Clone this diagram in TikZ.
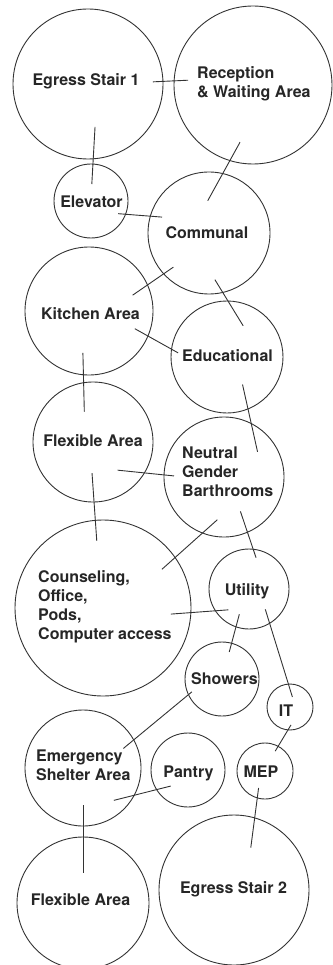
\documentclass[tikz,border=0pt]{standalone}
\usepackage{fontspec}
\setmainfont{TeX Gyre Heros}
\usepackage{tikz}
\definecolor{inkgray}{HTML}{333333}

\begin{document}
\begin{tikzpicture}[x=1pt,y=-1pt,
  room/.style={circle,draw=inkgray,line width=0.9pt,inner sep=0pt,outer sep=0pt,minimum size=#1},
  lbl/.style={font=\fontsize{16}{19}\selectfont\bfseries,text=black!85,inner sep=0pt},
  link/.style={draw=inkgray,line width=0.9pt}]
  \useasboundingbox (0,0) rectangle (332,965);

  \node[room=150pt] (es1) at (88,84) {};
  \node[room=158pt] (rec) at (253,85) {};
  \node[room=74pt] (elev) at (91,201) {};
  \node[room=122pt] (comm) at (209,233) {};
  \node[room=128pt] (kit) at (89,311) {};
  \node[room=112pt] (edu) at (227,357) {};
  \node[room=120pt] (flex) at (93,442) {};
  \node[room=120pt] (neu) at (224,477) {};
  \node[room=176pt] (couns) at (103,608) {};
  \node[room=80pt] (util) at (249,589) {};
  \node[room=74pt] (show) at (222,679) {};
  \node[room=46pt] (it) at (290,707) {};
  \node[room=116pt] (emer) at (83,768) {};
  \node[room=74pt] (pan) at (188,770) {};
  \node[room=56pt] (mep) at (265,771) {};
  \node[room=150pt] (es2) at (234,890) {};
  \node[room=132pt] (flex2) at (83,903) {};

  \node[lbl,anchor=base] (es1-t) at (86,86) {Egress Stair 1};
  \node[lbl,anchor=west,align=left] (rec-t) at (197,84) {Reception\\\& Waiting Area};
  \node[lbl,anchor=base] (elev-t) at (91.5,208) {Elevator};
  \node[lbl,anchor=base] (comm-t) at (207,239) {Communal};
  \node[lbl,anchor=base] (kit-t) at (90.5,319) {Kitchen Area};
  \node[lbl,anchor=base] (edu-t) at (227.5,361) {Educational};
  \node[lbl,anchor=base] (flex-t) at (93,446) {Flexible Area};
  \node[lbl,anchor=west,align=left] (neu-t) at (182,472) {Neutral\\Gender\\Barthrooms};
  \node[lbl,anchor=west,align=left] (couns-t) at (38,607) {Counseling,\\Office,\\Pods,\\Computer access};
  \node[lbl,anchor=base] (util-t) at (247,595) {Utility};
  \node[lbl,anchor=base] (show-t) at (224.5,684) {Showers};
  \node[lbl,anchor=base] (it-t) at (286,716) {IT};
  \node[lbl,anchor=west,align=left] (emer-t) at (36,765.5) {Emergency\\Shelter Area};
  \node[lbl,anchor=base] (pan-t) at (188.5,777) {Pantry};
  \node[lbl,anchor=base] (mep-t) at (261,777) {MEP};
  \node[lbl,anchor=base] (es2-t) at (233.5,893) {Egress Stair 2};
  \node[lbl,anchor=base] (flex2-t) at (80.5,905) {Flexible Area};

  \draw[link,shorten <=-10pt,shorten >=-14pt] (es1.2) -- (rec.177);
  \draw[link,shorten <=-32pt,shorten >=-20pt] (es1.274) -- (elev.87);
  \draw[link,shorten <=-21pt,shorten >=-31pt] (rec.253) -- (comm.77);
  \draw[link,shorten <=-7.5pt,shorten >=-11.7pt] (elev.339) -- (comm.164);
  \draw[link,shorten <=-11.8pt,shorten >=-18pt] (comm.222.5) -- (kit.24.4);
  \draw[link,shorten <=-15pt,shorten >=-29pt] (comm.283.3) -- (edu.89.5);
  \draw[link,shorten <=-15pt,shorten >=-7.5pt] (kit.337.4) -- (edu.172);
  \draw[link,shorten <=-22pt,shorten >=-29pt] (kit.265) -- (flex.99);
  \draw[link,shorten <=-25pt,shorten >=-29pt] (edu.292.7) -- (neu.63.5);
  \draw[link,shorten <=-27pt,shorten >=-10pt] (flex.329.7) -- (neu.178.5);
  \draw[link,shorten <=-29pt,shorten >=-20.6pt] (flex.271.3) -- (couns.95.4);
  \draw[link,shorten <=-20pt,shorten >=-17.6pt] (neu.249) -- (couns.35.7);
  \draw[link,shorten <=-22pt,shorten >=-9pt] (neu.293.4) -- (util.84.8);
  \draw[link,shorten <=-20pt,shorten >=-13pt] (couns.357.6) -- (util.213.7);
  \draw[link,shorten <=-13pt,shorten >=-9pt] (util.251.5) -- (show.75.1);
  \draw[link,shorten <=-14.6pt,shorten >=-13.5pt] (util.301.8) -- (it.94.5);
  \draw[link,shorten <=-4.4pt,shorten >=-13.5pt] (show.205.3) -- (emer.29.4);
  \draw[link,shorten <=-5.8pt,shorten >=-5.7pt] (it.265) -- (mep.62.4);
  \draw[link,shorten <=-21pt,shorten >=-14.5pt] (emer.332.6) -- (pan.212.7);
  \draw[link,shorten <=-21pt,shorten >=-36pt] (emer.270) -- (flex2.90);
  \draw[link,shorten <=-10pt,shorten >=-30pt] (mep.254.1) -- (es2.74.5);
\end{tikzpicture}
\end{document}
